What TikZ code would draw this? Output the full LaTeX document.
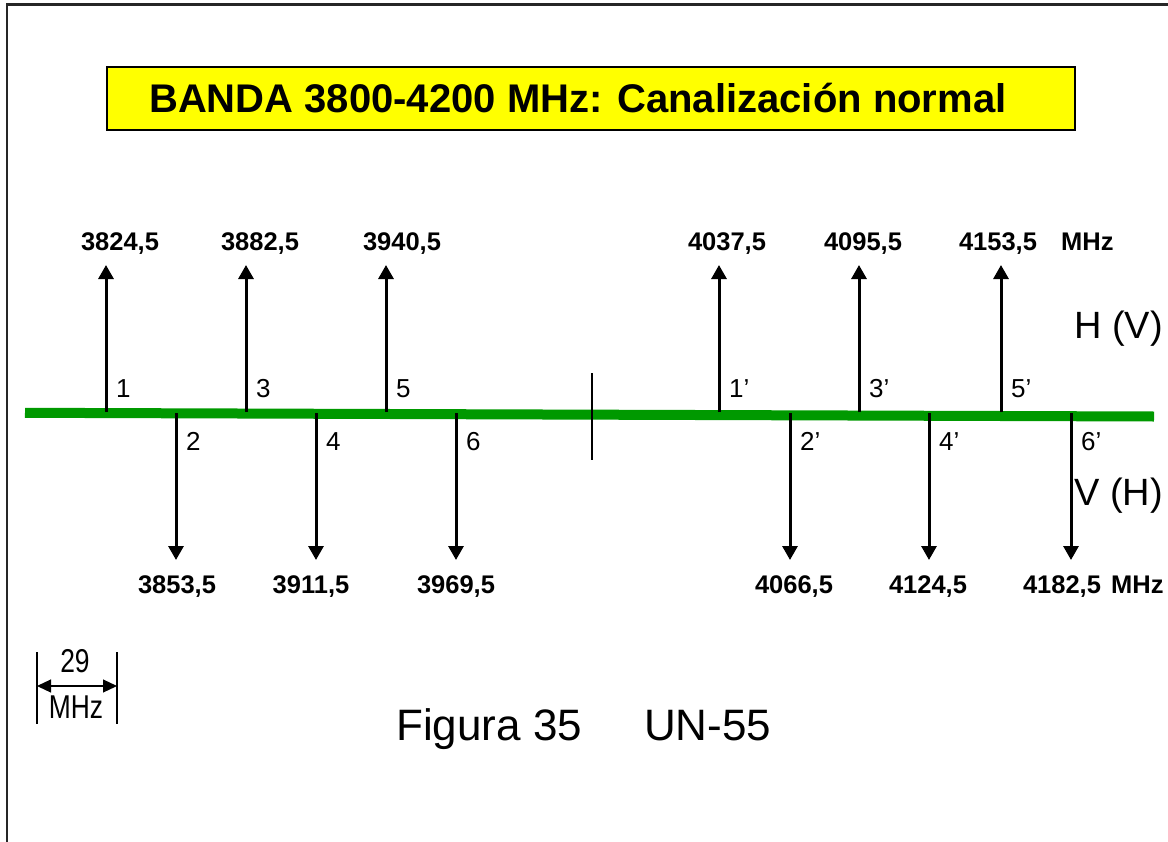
\documentclass[tikz,border=0pt]{standalone}
\usepackage{fontspec}
\setmainfont{Liberation Sans}
\newfontfamily\narrowfont[FakeStretch=0.8]{Liberation Sans}
\usepackage{xcolor}
\usetikzlibrary{arrows.meta, positioning, calc}
\definecolor{bandgreen}{RGB}{0,153,0}
\definecolor{titleyellow}{RGB}{255,255,0}

\begin{document}
\begin{tikzpicture}[x=1bp, y=-1bp,
    every node/.style={inner sep=0pt, font=\fontsize{26bp}{30bp}\selectfont},
    titlebox/.style={draw, line width=1.5bp, fill=titleyellow},
    titletext/.style={font=\bfseries\fontsize{40bp}{46bp}\selectfont},
    freq/.style={anchor=base, font=\bfseries\fontsize{25.5bp}{30bp}\selectfont},
    chanlabel/.style={anchor=base west},
    pollabel/.style={anchor=base west, font=\fontsize{38bp}{44bp}\selectfont},
    chanarrow/.style={line width=3bp, -{Triangle[width=15bp, length=14bp]}},
    band/.style={line width=10bp, draw=bandgreen}]
    \useasboundingbox (0,0) rectangle (1168,842);
    \clip (0,0) rectangle (1168,842);
    % frame of the slide
    \draw[line width=2bp, black!85] (6.5,900) -- (6.5,4.5) -- (1200,4.5);
    % title
    \node[titlebox, minimum width=968bp, minimum height=63bp, anchor=north west] (box) at (106,66) {};
    \node[titletext, anchor=base west] (title) at (149,112) {BANDA 3800-4200 MHz: Canalización normal};
    % band axis and centre mark
    \coordinate (bandL) at (25,412.8);
    \coordinate (bandR) at (1154,416.5);
    \draw[band] (bandL) -- (bandR);
    \coordinate (divT) at (592,373);
    \coordinate (divB) at (592,460);
    \draw[line width=1.3bp] (divT) -- (divB);
    % channels going up
    \foreach \x/\n/\fx/\f [count=\i] in {106/1/120/{3824,5}, 246/3/260/{3882,5}, 386/5/402/{3940,5},
            719/1’/727/{4037,5}, 859/3’/863/{4095,5}, 1001/5’/998/{4153,5}} {
        \coordinate (ub\i) at (\x,412);
        \coordinate (ut\i) at (\x,265);
        \draw[chanarrow] (ub\i) -- (ut\i);
        \node[chanlabel] (ul\i) at (\x+10,397) {\n};
        \node[freq] (uf\i) at (\fx,250) {\f};
    }
    % channels going down
    \foreach \x/\n/\fx/\f [count=\i] in {176/2/177/{3853,5}, 316/4/311/{3911,5}, 456/6/456/{3969,5},
            790/2’/794/{4066,5}, 929/4’/928/{4124,5}, 1071/6’/1062/{4182,5}} {
        \coordinate (db\i) at (\x,413);
        \coordinate (dt\i) at (\x,560);
        \draw[chanarrow] (db\i) -- (dt\i);
        \node[chanlabel] (dl\i) at (\x+10,450) {\n};
        \node[freq] (df\i) at (\fx,593) {\f};
    }
    \node[freq, anchor=base west] (mhzU) at (1061,250) {MHz};
    \node[freq, anchor=base west] (mhzD) at (1111,593) {MHz};
    % polarisations
    \node[pollabel] (polU) at (1074,338) {H (V)};
    \node[pollabel] (polD) at (1074,505) {V (H)};
    % spacing 29 MHz
    \coordinate (sL1) at (37,652);
    \coordinate (sL2) at (37,724);
    \coordinate (sR1) at (117,652);
    \coordinate (sR2) at (117,724);
    \draw[line width=1.2bp] (sL1) -- (sL2);
    \draw[line width=1.2bp] (sR1) -- (sR2);
    \coordinate (sA) at (37,686);
    \coordinate (sB) at (117,686);
    \draw[line width=1.2bp, {Triangle[width=13bp, length=14bp]}-{Triangle[width=13bp, length=14bp]}] (sA) -- (sB);
    \node[anchor=base, font=\narrowfont\fontsize{33bp}{38bp}\selectfont] (sNum) at (75,672) {29};
    \node[anchor=base, font=\narrowfont\fontsize{33bp}{38bp}\selectfont] (sUnit) at (76,718) {MHz};
    % caption
    \node[anchor=base west, font=\fontsize{44bp}{50bp}\selectfont] (caption) at (396,740) {Figura 35\hspace{62bp}UN-55};
\end{tikzpicture}
\end{document}
